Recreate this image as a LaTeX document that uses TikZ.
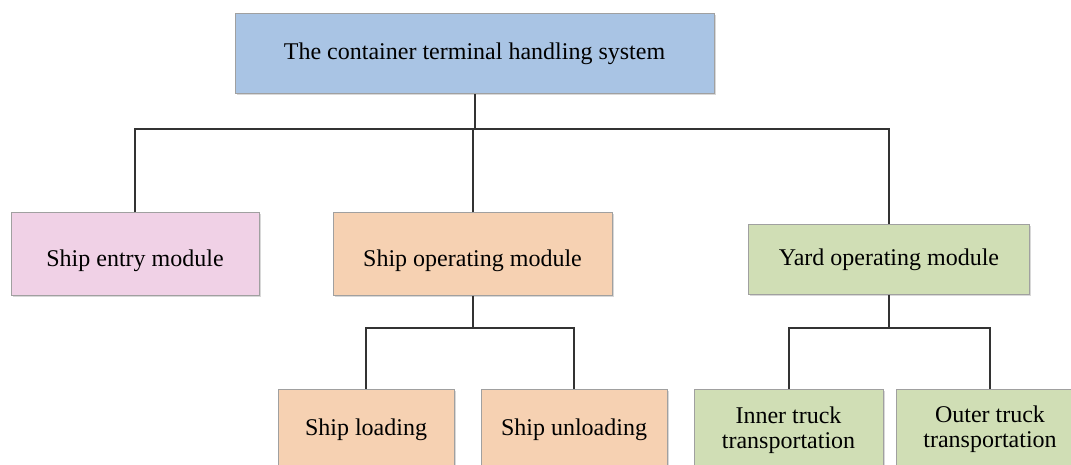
\documentclass[tikz,border=0pt]{standalone}
\usepackage{fontspec}
\setmainfont{Liberation Serif}
\usetikzlibrary{shadows}
\definecolor{cblue}{HTML}{A9C4E4}
\definecolor{cpink}{HTML}{F0D1E6}
\definecolor{corange}{HTML}{F6D1B2}
\definecolor{cgreen}{HTML}{D0DEB5}
\definecolor{cborder}{HTML}{A0A0A0}
\definecolor{cline}{HTML}{333333}
\begin{document}
\begin{tikzpicture}[x=1pt,y=-1pt,
  box/.style={draw=cborder, line width=1pt, inner sep=0pt, align=center,
    font=\fontsize{24}{25}\selectfont,
    drop shadow={shadow xshift=1.5pt, shadow yshift=-1.5pt, fill=black!30}},
  lowtext/.style={text height=29pt, text depth=5pt},
  conn/.style={draw=cline, line width=2pt}]
\useasboundingbox (0,0) rectangle (1071,465);
\node[box, fill=cblue, minimum width=479pt, minimum height=80pt] (top) at (474.5,54) {The container terminal handling system};
\node[box, lowtext, fill=cpink, minimum width=248pt, minimum height=82pt] (entry) at (135,254) {Ship entry module};
\node[box, lowtext, fill=corange, minimum width=279pt, minimum height=82pt] (ops) at (472.5,254) {Ship operating module};
\node[box, fill=cgreen, minimum width=281pt, minimum height=69pt] (yard) at (889,259.5) {Yard operating module};
\node[box, fill=corange, minimum width=176pt, minimum height=82pt] (load) at (366,430) {Ship loading};
\node[box, fill=corange, minimum width=186pt, minimum height=82pt] (unload) at (574,430) {Ship unloading};
\node[box, fill=cgreen, minimum width=189pt, minimum height=82pt] (inner) at (788.5,430) {Inner truck\\transportation};
\node[box, fill=cgreen, minimum width=230pt, minimum height=82pt] (outer) at (1011,430)
  {\def\arraystretch{1}\begin{tabular}{@{}c@{\hspace{42pt}}}Outer truck\\transportation\end{tabular}};
\coordinate (bus) at (0,129);
\coordinate (busa) at (0,328);
\coordinate (outtap) at (990,0);
\draw[conn] (top.south) -- (top.south|-bus);
\draw[conn] (entry.north) |- (yard.north|-bus) -- (yard.north);
\draw[conn] (ops.north) -- (ops.north|-bus);
\draw[conn] (ops.south) -- (ops.south|-busa);
\draw[conn] (load.north) |- (unload.north|-busa) -- (unload.north);
\draw[conn] (yard.south) -- (yard.south|-busa);
\draw[conn] (inner.north) |- (outtap|-busa) -- (outtap|-outer.north);
\end{tikzpicture}
\end{document}
